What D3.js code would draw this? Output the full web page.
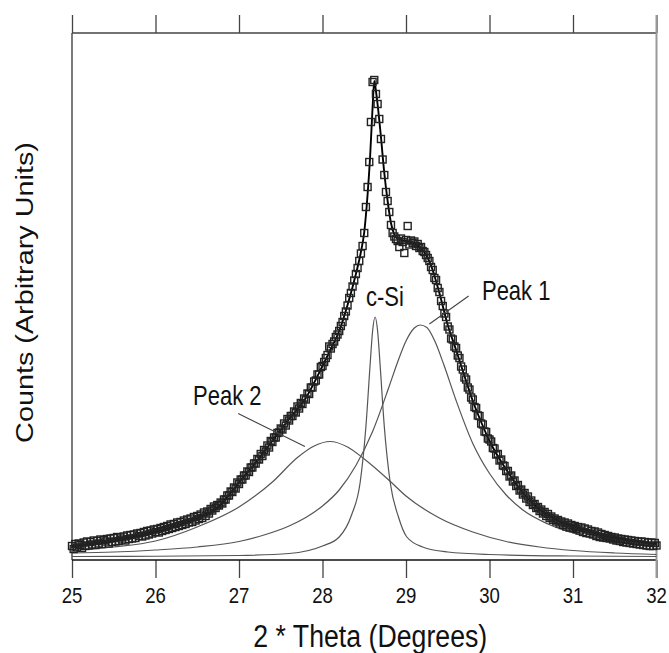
<!DOCTYPE html>
<html>
<head>
<meta charset="utf-8">
<script src="https://cdn.jsdelivr.net/npm/d3@7"></script>
<style>
html, body { margin: 0; padding: 0; background: #fff; }
svg { display: block; font-family: "Liberation Sans", Arial, sans-serif; }
</style>
</head>
<body>
<svg width="669" height="653"></svg>
<script>
// measured scan: 2theta from 25 to 32 in 0.02 deg steps
const thetaStart = 25, thetaStep = 0.02;
const counts = [
  22,16,26,19,27,24,18,29,22,31, 23,30,25,33,24,32,27,35,26,34,
  31,36,27,37,30,38,31,40,32,39, 35,41,33,43,36,44,37,45,38,47,
  42,48,41,50,43,52,45,53,47,55, 50,
  56,49,58,52,60,54,62,56,65,58, 66,60,69,62,70,64,73,66,75,69,
  77,70,80,73,82,76,85,78,89,82, 91,87,96,93,101,98,104,103,109,107,
  115,115,123,123,131,130,139,137,149,146,
  155,155,163,163,171,170,179,179,187,187, 196,195,206,202,214,211,223,219,232,230,
  239,239,248,249,257,255,267,263,276,273, 282,282,291,289,301,297,308,306,317,315,
  327,326,339,339,351,353,365,365,380,382,
  390,398,404,421,417,426,431,440,445,452, 462,470,482,491,503,518,528,541,553,566,
  578,592,607,622,648,700,740,790,870,950, 954,
  926,906,876,836,795,764,730,712,690,664, 648,641,
  636,632,620,637,630,608,634,662,625,633, 628,631,622,626,618,620,612,610,604,598,
  592,580,574,558,554,538,530,512,502,487, 480,461,455,437,435,421,418,403,398,381,
  375,359,355,339,335,319,315,300,298,283, 282,267,265,251,250,237,235,
  231,218,217,205,206,193,195,183,182,172, 172,161,163,151,153,142,144,133,135,125,
  128,117,121,110,113,104,106,98,100,92, 95,87,90,82,86,78,81,74,77,71,
  74,67,71,64,69,61,67,59,64,58,
  62,56,60,53,59,50,57,48,55,47, 52,45,51,42,49,40,46,39,44,38,
  42,37,40,35,39,33,37,32,36,30, 35,29,34,28,33,27,32,26,31,25,
  31,24,30,23,29,22,29,22,28,23
];

// fitted envelope
const fitTheta  = [25.0,25.5,26.0,26.4,26.8,27.0,27.2,27.4,27.6,27.8,28.0,28.1,28.2,28.3,28.4,28.46,28.5,28.54,28.57,28.6,28.62,
                   28.64,28.66,28.7,28.74,28.78,28.82,28.86,28.9,29.0,29.1,29.2,29.26,29.3,29.4,29.5,29.6,29.7,29.8,29.9,
                   30.0,30.2,30.4,30.6,30.8,31.0,31.2,31.4,31.6,31.8,32.0];
const fitCounts = [22,33,51,71,108,149,189,232,276,318,382,416,452,504,566,610,650,725,800,900,952,
                   932,905,840,768,712,668,645,636,632,627,614,598,583,528,464,414,362,312,270,
                   232,175,128,95,74,61,51,41,35,30,26];

// component: Peak 1
const peak1Theta  = [25.0,25.5,26.0,26.5,27.0,27.3,27.6,27.8,28.0,28.2,28.4,28.6,28.8,28.9,29.0,29.1,29.17,29.25,29.35,29.45,29.6,29.8,30.0,30.2,30.4,30.7,31.0,31.3,31.6,32.0];
const peak1Counts = [8,10,14,20,31,44,62,79,102,134,183,251,342,390,432,458,464,459,430,386,313,227,167,124,94,66,48,36,28,21];

// component: Peak 2
const peak2Theta  = [25.0,25.5,26.0,26.5,27.0,27.4,27.7,27.9,28.09,28.3,28.5,28.8,29.0,29.4,29.8,30.2,30.6,31.0,31.5,32.0];
const peak2Counts = [13,20,32,60,100,150,199,222,231,220,196,153,122,78,50,31,20,13,8,5];

// component: c-Si
const csiTheta  = [25.0,26.0,27.0,27.6,28.0,28.2,28.35,28.45,28.52,28.57,28.6,28.63,28.66,28.69,28.74,28.81,28.91,29.01,29.2,29.5,30.0,31.0,32.0];
const csiCounts = [1,1.5,3,7,22,40,85,148,261,384,452,480,452,384,261,150,80,40,20,10,5,2,1];

const xTicks = [25,26,27,28,29,30,31,32];

// annotations (data units)
const labels = [
  { text: "Peak 2", t: 26.45, c: 304 },
  { text: "c-Si",   t: 28.52, c: 502 },
  { text: "Peak 1", t: 29.91, c: 514 }
];
const leaders = [
  { t1: 26.99, c1: 287, t2: 27.79, c2: 221 },
  { t1: 29.75, c1: 522, t2: 29.28, c2: 466 }
];

let svg = d3.select("svg");

let x = d3.scaleLinear().domain([25, 32]).range([72, 656.5]);
let y = d3.scaleLinear().domain([-6, 1048]).range([560, 33]);

let data = counts.map(function (c, i) { return [+(thetaStart + i * thetaStep).toFixed(2), c]; });

//////////// AXES ////////////

// bottom ticks
svg.append("g")
    .attr("transform", "translate(0," + y.range()[0] + ")")
    .call(d3.axisBottom(x).tickValues(xTicks).tickSize(18).tickSizeOuter(0).tickFormat(""))
    .call(function (g) { g.select(".domain").remove(); })
    .selectAll("line").attr("stroke", "#444").attr("stroke-width", 1.3);

// top ticks
svg.append("g")
    .attr("transform", "translate(0," + y.range()[1] + ")")
    .call(d3.axisTop(x).tickValues(xTicks).tickSize(18).tickSizeOuter(0).tickFormat(""))
    .call(function (g) { g.select(".domain").remove(); })
    .selectAll("line").attr("stroke", "#444").attr("stroke-width", 1.3);

// frame
svg.append("line")
    .attr("x1", x.range()[0]).attr("x2", x.range()[0])
    .attr("y1", y.range()[1]).attr("y2", y.range()[0])
    .attr("stroke", "#444").attr("stroke-width", 1.4);
svg.append("line")
    .attr("x1", x.range()[0]).attr("x2", x.range()[1])
    .attr("y1", y.range()[1]).attr("y2", y.range()[1])
    .attr("stroke", "#444").attr("stroke-width", 1.6);
svg.append("line")
    .attr("x1", x.range()[0]).attr("x2", x.range()[1])
    .attr("y1", y.range()[0]).attr("y2", y.range()[0])
    .attr("stroke", "#111").attr("stroke-width", 1.4);
svg.append("line")
    .attr("x1", x.range()[1]).attr("x2", x.range()[1])
    .attr("y1", y.range()[1] - 18).attr("y2", y.range()[0] + 18)
    .attr("stroke", "#999").attr("stroke-width", 2);

// tick labels (the original is slightly stretched vertically)
svg.append("g").selectAll("text")
    .data(xTicks)
    .enter().append("text")
    .attr("transform", function (d) { return "translate(" + x(d) + ",603) scale(1,1.2)"; })
    .attr("text-anchor", "middle")
    .attr("font-size", 18.6)
    .attr("fill", "#111")
    .text(function (d) { return d; });

// axis titles
svg.append("text")
    .attr("transform", "translate(" + ((x.range()[0] + x.range()[1]) / 2 + 6) + ",647) scale(1,1.2)")
    .attr("text-anchor", "middle")
    .attr("font-size", 26.7)
    .attr("fill", "#111")
    .text("2 * Theta (Degrees)");

svg.append("text")
    .attr("transform", "translate(33," + ((y.range()[0] + y.range()[1]) / 2 - 4) + ") rotate(-90) scale(1.2,1)")
    .attr("text-anchor", "middle")
    .attr("font-size", 24)
    .attr("fill", "#111")
    .text("Counts (Arbitrary Units)");

//////////// CURVES ////////////

let line = d3.line()
    .x(function (d) { return x(d[0]); })
    .y(function (d) { return y(d[1]); })
    .curve(d3.curveMonotoneX);

function zip(a, b) { return a.map(function (v, i) { return [v, b[i]]; }); }

let components = [
    zip(peak2Theta, peak2Counts),
    zip(peak1Theta, peak1Counts),
    zip(csiTheta, csiCounts)
];

svg.append("g")
    .attr("class", "components")
    .selectAll("path")
    .data(components)
    .enter().append("path")
    .attr("d", line)
    .attr("fill", "none")
    .attr("stroke", "#555")
    .attr("stroke-width", 1.2);

svg.append("path")
    .datum(zip(fitTheta, fitCounts))
    .attr("d", line)
    .attr("fill", "none")
    .attr("stroke", "#000")
    .attr("stroke-width", 1.9);

// data squares
svg.append("g")
    .attr("class", "points")
    .selectAll("rect")
    .data(data)
    .enter().append("rect")
    .attr("x", function (d) { return x(d[0]) - 3.5; })
    .attr("y", function (d) { return y(d[1]) - 3.5; })
    .attr("width", 7)
    .attr("height", 7)
    .attr("fill", "none")
    .attr("stroke", "#222")
    .attr("stroke-width", 1.4);

//////////// ANNOTATIONS ////////////

svg.append("g").selectAll("line")
    .data(leaders)
    .enter().append("line")
    .attr("x1", function (d) { return x(d.t1); })
    .attr("y1", function (d) { return y(d.c1); })
    .attr("x2", function (d) { return x(d.t2); })
    .attr("y2", function (d) { return y(d.c2); })
    .attr("stroke", "#444")
    .attr("stroke-width", 1.1);

svg.append("g").selectAll("text")
    .data(labels)
    .enter().append("text")
    .attr("transform", function (d) { return "translate(" + x(d.t) + "," + y(d.c) + ") scale(1,1.22)"; })
    .attr("font-size", 22)
    .attr("fill", "#111")
    .text(function (d) { return d.text; });
</script>
</body>
</html>
